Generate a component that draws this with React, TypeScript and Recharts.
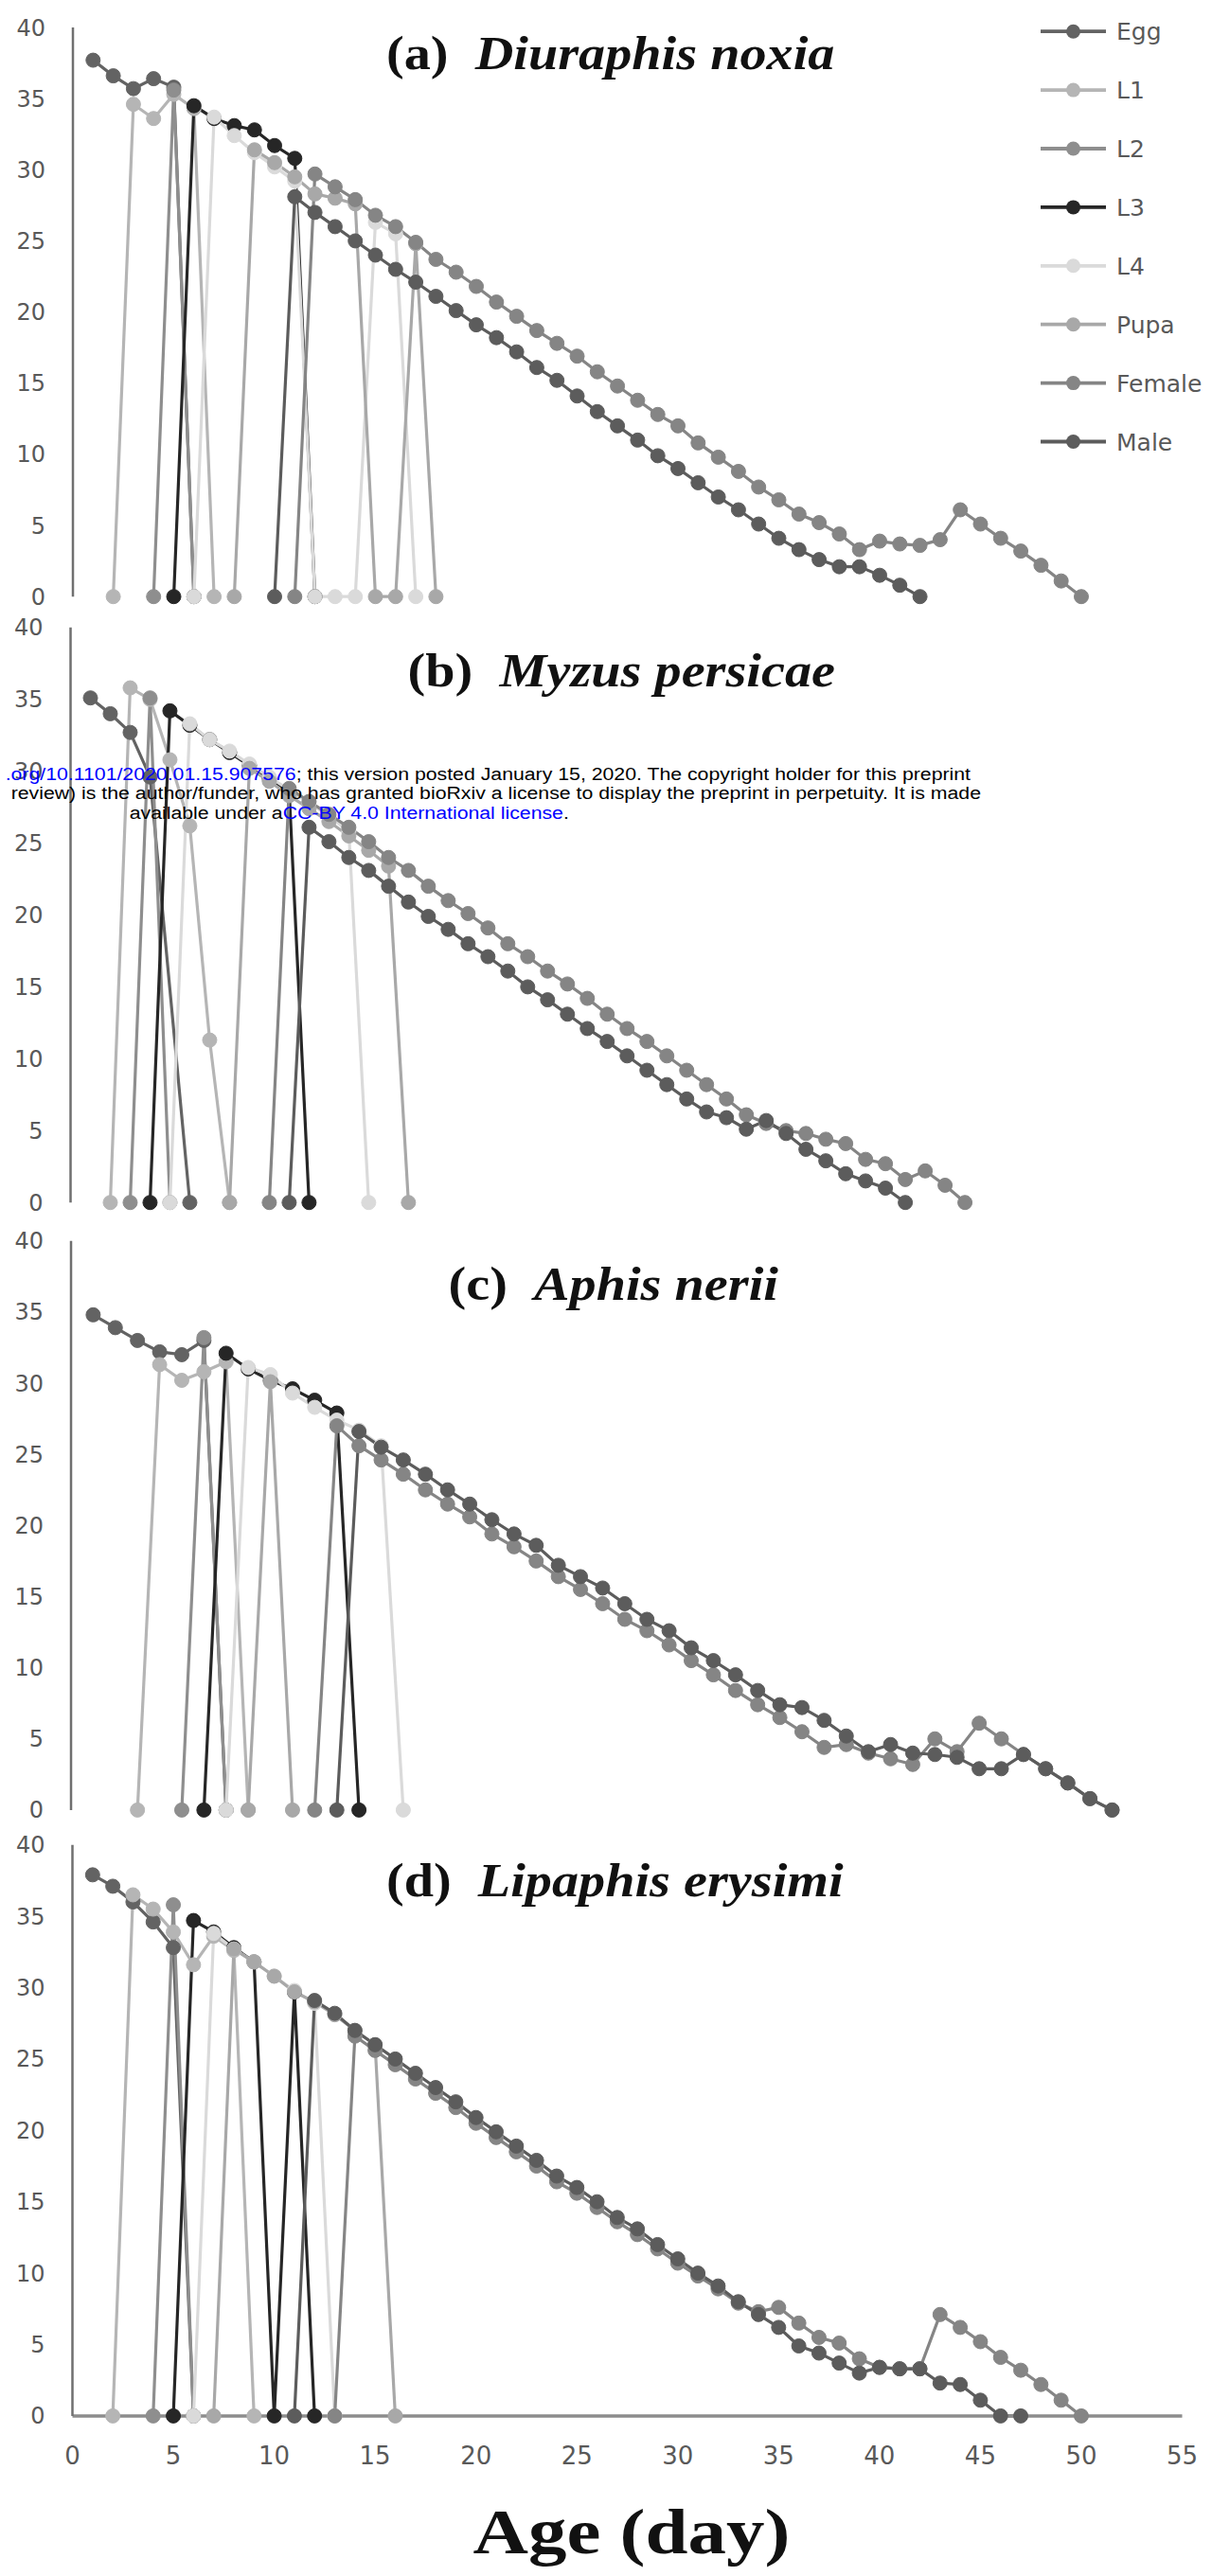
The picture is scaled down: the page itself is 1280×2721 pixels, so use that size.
import React from 'react';
import { LineChart, Line, XAxis, YAxis } from 'recharts';

// ---------- shared labels ----------
const STAGES = ['Egg', 'L1', 'L2', 'L3', 'L4', 'Pupa', 'Female', 'Male'];
const STAGE_COLORS = ['#636363', '#b5b5b5', '#8e8e8e', '#262626', '#dadada', '#a8a8a8', '#858585', '#5c5c5c'];
const Y_TICKS = [0, 5, 10, 15, 20, 25, 30, 35, 40];
const X_TICKS = [0, 5, 10, 15, 20, 25, 30, 35, 40, 45, 50, 55];

// ---------- (a) Diuraphis noxia : first day of each stage series, then daily values ----------
const A_START = [1, 2, 4, 5, 6, 8, 11, 10];
const A_EGG = [37.7, 36.6, 35.7, 36.4, 35.8, 0];
const A_L1 = [0, 34.6, 33.6, 35.3, 34.3, 0];
const A_L2 = [0, 35.6, 0];
const A_L3 = [0, 34.5, 33.6, 33.1, 32.8, 31.7, 30.8, 0];
const A_L4 = [0, 33.7, 32.4, 31.2, 30.2, 29.2, 0, 0, 0, 26.3, 25.5, 0];
const A_PUPA = [0, 31.4, 30.5, 29.5, 28.3, 28.0, 27.6, 0, 0, 24.8, 0];
const A_FEMALE = [0, 29.7, 28.8, 27.9, 26.8, 26.0, 24.9, 23.7, 22.8, 21.8, 20.7, 19.7, 18.7, 17.8, 16.9, 15.8, 14.8, 13.8, 12.8, 12.0, 10.8, 9.8, 8.8, 7.7, 6.8, 5.8, 5.2, 4.4, 3.3, 3.9, 3.7, 3.6, 4.0, 6.1, 5.1, 4.1, 3.2, 2.2, 1.1, 0];
const A_MALE = [0, 28.1, 27.0, 26.0, 25.0, 24.0, 23.0, 22.1, 21.1, 20.1, 19.1, 18.2, 17.2, 16.1, 15.2, 14.1, 13.0, 12.0, 11.0, 9.9, 9.0, 8.0, 7.0, 6.1, 5.1, 4.1, 3.3, 2.6, 2.1, 2.1, 1.5, 0.8, 0];

// ---------- (b) Myzus persicae ----------
const B_START = [1, 2, 3, 4, 5, 8, 10, 11];
const B_EGG = [35.1, 34.0, 32.7, 29.6, null, 0];
const B_L1 = [0, 35.8, 35.0, 30.8, 26.2, 11.3, 0];
const B_L2 = [0, 35.1, 0];
const B_L3 = [0, 34.2, 33.2, 32.2, 31.3, 30.4, 29.5, 28.6, 0];
const B_L4 = [0, 33.3, 32.2, 31.4, 30.5, 29.6, 28.7, 27.8, 26.9, 25.8, 0];
const B_PUPA = [0, 30.2, 29.3, 28.3, 27.4, 26.5, 25.5, 24.5, 23.4, 0];
const B_FEMALE = [0, 28.8, 27.9, 27.0, 26.1, 25.1, 24.0, 23.1, 22.0, 21.0, 20.1, 19.1, 18.0, 17.1, 16.1, 15.2, 14.2, 13.1, 12.1, 11.2, 10.2, 9.2, 8.2, 7.2, 6.1, 5.5, 5.0, 4.8, 4.4, 4.1, 3.0, 2.7, 1.6, 2.2, 1.2, 0];
const B_MALE = [0, 26.1, 25.1, 24.0, 23.1, 22.0, 20.9, 19.9, 19.0, 18.0, 17.1, 16.1, 15.0, 14.1, 13.1, 12.1, 11.2, 10.2, 9.2, 8.2, 7.2, 6.3, 5.9, 5.1, 5.7, 4.8, 3.7, 2.9, 2.0, 1.5, 1.0, 0];

// ---------- (c) Aphis nerii ----------
const C_START = [1, 3, 5, 6, 7, 8, 11, 12];
const C_EGG = [34.8, 33.9, 33.0, 32.2, 32.0, 33.0, 0];
const C_L1 = [0, 31.3, 30.2, 30.8, 31.5, 0];
const C_L2 = [0, 33.2, 0];
const C_L3 = [0, 32.1, 31.0, 30.2, 29.6, 28.8, 27.9, 0];
const C_L4 = [0, 31.1, 30.6, 29.3, 28.3, 27.4, 26.7, 25.6, 0];
const C_PUPA = [0, 30.1, 0];
const C_FEMALE = [0, 27.0, 25.6, 24.6, 23.6, 22.5, 21.5, 20.6, 19.4, 18.5, 17.5, 16.4, 15.5, 14.5, 13.4, 12.6, 11.6, 10.5, 9.5, 8.4, 7.4, 6.5, 5.5, 4.4, 4.6, 4.0, 3.6, 3.2, 5.0, 4.1, 6.1, 5.0, 3.9, 2.9, 1.9, 0.8, 0];
const C_MALE = [0, 26.6, 25.5, 24.6, 23.6, 22.5, 21.5, 20.4, 19.4, 18.6, 17.2, 16.4, 15.6, 14.5, 13.4, 12.6, 11.4, 10.5, 9.5, 8.4, 7.4, 7.2, 6.3, 5.2, 4.1, 4.6, 4.0, 3.9, 3.7, 2.9, 2.9, 3.9, 2.9, 1.9, 0.8, 0];

// ---------- (d) Lipaphis erysimi ----------
const D_START = [1, 2, 4, 5, 6, 7, 13, 11];
const D_EGG = [37.9, 37.1, 36.0, 34.6, 32.8, 0];
const D_L1 = [0, 36.5, 35.5, 33.9, 31.6, 33.6, 32.6, 0];
const D_L2 = [0, 35.8, 0];
const D_L3 = [0, 34.7, 33.9, 32.8, 31.8, 0, 29.7, 0];
const D_L4 = [0, 33.8, 32.7, 31.8, 30.8, 29.8, 28.9, 0];
const D_PUPA = [0, 32.7, 31.8, 30.8, 29.7, 29.0, 28.1, 27.0, 26.0, 0];
const D_FEMALE = [0, 26.6, 25.6, 24.6, 23.6, 22.6, 21.6, 20.5, 19.5, 18.5, 17.5, 16.4, 15.6, 14.6, 13.6, 12.7, 11.7, 10.7, 9.8, 8.9, 7.9, 7.3, 7.6, 6.5, 5.5, 5.1, 4.0, 3.4, 3.3, 3.3, 7.1, 6.2, 5.2, 4.1, 3.2, 2.2, 1.1, 0];
const D_MALE = [0, 29.1, 28.2, 27.0, 26.0, 25.0, 24.0, 23.0, 22.0, 20.9, 19.9, 18.9, 17.9, 16.8, 16.0, 15.0, 13.9, 13.1, 12.0, 11.0, 10.0, 9.1, 8.0, 7.1, 6.2, 4.9, 4.4, 3.7, 3.0, 3.4, 3.3, 3.3, 2.3, 2.2, 1.1, 0, 0];

type Pt = { day: number; n: number };
function toPoints(start: number, values: (number | null)[]): Pt[] {
  const pts: Pt[] = [];
  values.forEach((v, i) => {
    if (v !== null) pts.push({ day: start + i, n: v });
  });
  return pts;
}

// ---------- layout (pixel geometry of each panel) ----------
const PANELS = [
  { id: 'a', label: '(a)', species: 'Diuraphis noxia', starts: A_START, series: [A_EGG, A_L1, A_L2, A_L3, A_L4, A_PUPA, A_FEMALE, A_MALE],
    top: 0, plotTop: 29, plotBottom: 630.2, left: 77, right: 1248.5, xMax: 55, titleX: 408, titleY: 72.6, showX: false },
  { id: 'b', label: '(b)', species: 'Myzus persicae', starts: B_START, series: [B_EGG, B_L1, B_L2, B_L3, B_L4, B_PUPA, B_FEMALE, B_MALE],
    top: 640, plotTop: 662.8, plotBottom: 1270.2, left: 74.5, right: 1250, xMax: 56, titleX: 430.6, titleY: 725, showX: false },
  { id: 'c', label: '(c)', species: 'Aphis nerii', starts: C_START, series: [C_EGG, C_L1, C_L2, C_L3, C_L4, C_PUPA, C_FEMALE, C_MALE],
    top: 1285, plotTop: 1310.7, plotBottom: 1911.9, left: 75, right: 1247, xMax: 50.1, titleX: 473.5, titleY: 1372.9, showX: false },
  { id: 'd', label: '(d)', species: 'Lipaphis erysimi', starts: D_START, series: [D_EGG, D_L1, D_L2, D_L3, D_L4, D_PUPA, D_FEMALE, D_MALE],
    top: 1920, plotTop: 1948.7, plotBottom: 2551.9, left: 76.5, right: 1248.5, xMax: 55, titleX: 408, titleY: 2002.6, showX: true },
];

const TICK_FONT = "'DejaVu Sans', sans-serif";
const SERIF = "'Liberation Serif', 'Times New Roman', serif";
const DOT_R = 7.5;

function Panel({ p }: { p: (typeof PANELS)[number] }) {
  const xAxisH = p.showX ? 62 : 0;
  const bottomPad = p.showX ? 6 : 14;
  const height = p.plotBottom - p.top + xAxisH + bottomPad;
  return (
    <div style={{ position: 'absolute', left: 0, top: p.top, width: 1280, height }}>
      <LineChart
        width={1280}
        height={height}
        margin={{ top: p.plotTop - p.top, right: 1280 - p.right, bottom: bottomPad, left: 0 }}
      >
        <XAxis
          dataKey="day"
          type="number"
          domain={[0, p.xMax]}
          ticks={X_TICKS}
          interval={0}
          height={xAxisH}
          tick={p.showX ? { fill: '#595959', fontSize: 26, fontFamily: TICK_FONT } : false}
          tickLine={false}
          tickSize={0}
          tickMargin={33}
          axisLine={{ stroke: '#8c8c8c', strokeWidth: 3.5 }}
        />
        <YAxis
          type="number"
          domain={[0, 40]}
          ticks={Y_TICKS}
          interval={0}
          width={p.left}
          tick={{ fill: '#595959', fontSize: 24, fontFamily: TICK_FONT }}
          tickLine={false}
          tickSize={0}
          tickMargin={29}
          axisLine={{ stroke: '#707070', strokeWidth: 2.5 }}
        />
        {p.series.map((vals, i) => (
          <Line
            key={STAGES[i]}
            name={STAGES[i]}
            data={toPoints(p.starts[i], vals)}
            dataKey="n"
            type="linear"
            stroke={STAGE_COLORS[i]}
            strokeWidth={3.2}
            dot={{ r: DOT_R, fill: STAGE_COLORS[i], stroke: STAGE_COLORS[i], strokeWidth: 1 }}
            activeDot={false}
            isAnimationActive={false}
          />
        ))}
      </LineChart>
    </div>
  );
}

function Overlay() {
  const legendTop = 33.2;
  const legendStep = 61.9;
  return (
    <svg width={1280} height={2721} style={{ position: 'absolute', left: 0, top: 0, pointerEvents: 'none' }}>
      {PANELS.map((p) => (
        <text
          key={p.id}
          transform={`translate(${p.titleX},${p.titleY}) scale(1.125,1)`}
          fontFamily={SERIF}
          fontSize={50}
          fontWeight="bold"
          fill="#111"
        >
          <tspan>{p.label}</tspan>
          <tspan dx={25} fontStyle="italic">{p.species}</tspan>
        </text>
      ))}
      {STAGES.map((s, i) => {
        const y = legendTop + i * legendStep;
        return (
          <g key={s}>
            <line x1={1099} x2={1168} y1={y} y2={y} stroke={STAGE_COLORS[i]} strokeWidth={3.8} />
            <circle cx={1133.5} cy={y} r={7.5} fill={STAGE_COLORS[i]} />
            <text x={1179} y={y + 9} fontFamily={TICK_FONT} fontSize={25} fill="#595959">{s}</text>
          </g>
        );
      })}
      <text transform="translate(1025,823.7) scale(1.12,1)" textAnchor="end" fontFamily="'Liberation Sans', Arial, sans-serif" fontSize={19} fill="#000">
        <tspan fill="#0000ff">.org/10.1101/2020.01.15.907576</tspan>
        <tspan>; this version posted January 15, 2020. The copyright holder for this preprint</tspan>
      </text>
      <text transform="translate(1036,844.4) scale(1.12,1)" textAnchor="end" fontFamily="'Liberation Sans', Arial, sans-serif" fontSize={19} fill="#000">
        review) is the author/funder, who has granted bioRxiv a license to display the preprint in perpetuity. It is made
      </text>
      <text transform="translate(136.7,865) scale(1.12,1)" fontFamily="'Liberation Sans', Arial, sans-serif" fontSize={19} fill="#000">
        <tspan>available under a</tspan>
        <tspan fill="#0000ff">CC-BY 4.0 International license</tspan>
        <tspan>.</tspan>
      </text>
      <text transform="translate(499.6,2696.7) scale(1.19,1)" fontFamily={SERIF} fontSize={68} fontWeight="bold" fill="#111">
        Age (day)
      </text>
    </svg>
  );
}

export default function App() {
  return (
    <div style={{ position: 'absolute', left: 0, top: 0, width: 1280, height: 2721, background: '#ffffff', overflow: 'hidden' }}>
      {PANELS.map((p) => (
        <Panel key={p.id} p={p} />
      ))}
      <Overlay />
    </div>
  );
}
